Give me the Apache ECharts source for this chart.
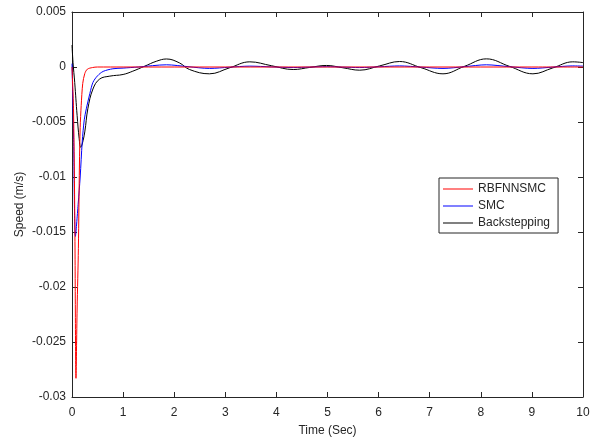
<!DOCTYPE html>
<html>
<head>
<meta charset="utf-8">
<script src="https://cdn.jsdelivr.net/npm/echarts@6/dist/echarts.min.js"></script>
<style>
html,body{margin:0;padding:0;background:#fff;}
#c{width:594px;height:442px;}
</style>
</head>
<body>
<div id="c"></div>
<script>
var seriesNames = ['RBFNNSMC', 'SMC', 'Backstepping'];
var xTickLabels = ['0','1','2','3','4','5','6','7','8','9','10'];
var yTickLabels = ['-0.03','-0.025','-0.02','-0.015','-0.01','-0.005','0','0.005'];

var rbfTime = [0, 0.03, 0.055, 0.078, 0.1, 0.125, 0.145, 0.16, 0.18, 0.21, 0.25, 0.3, 0.4, 0.5, 1, 2, 3, 4, 5, 6, 7, 8, 9, 10];
var rbfValue = [0, -0.004, -0.014, -0.0283, -0.022, -0.0165, -0.009, -0.0055, -0.0035, -0.0015, -0.0006, -0.0002, -0.00005, 0, 0, 0, 0, 0, 0, 0, 0, 0, 0, 0];

var smcTime = [0, 0.03, 0.067, 0.12, 0.16, 0.2, 0.24, 0.28, 0.35, 0.41, 0.5, 0.61, 0.8, 1.0, 1.3, 1.85, 2.27, 2.69, 3.08, 3.48, 3.9, 4.33, 4.65, 4.98, 5.3, 5.63, 6.02, 6.41, 6.83, 7.26, 7.68, 8.11, 8.56, 9.02, 9.41, 9.8, 10];
var smcValue = [0.0003, -0.006, -0.0154, -0.0125, -0.01, -0.0068, -0.0048, -0.0038, -0.0024, -0.0014, -0.0008, -0.0004, -0.00016, -0.0001, 0, 0.0002, 0.00003, -0.00013, -0.00002, 0.00008, 0.00001, -0.00005, -0.00001, 0.00003, -0.00001, -0.00005, 0.00002, 0.0001, -0.00001, -0.00013, 0.00003, 0.0002, 0.00003, -0.00013, -0.00001, 0.0001, 0.00008];

var bsTime = [0, 0.02, 0.053, 0.1, 0.14, 0.17, 0.2, 0.25, 0.31, 0.41, 0.54, 0.74, 1.0, 1.19, 1.42, 1.65, 1.85, 2.1, 2.3, 2.69, 3.08, 3.48, 3.9, 4.33, 4.65, 4.98, 5.3, 5.63, 6.02, 6.41, 6.83, 7.26, 7.68, 8.11, 8.56, 9.02, 9.41, 9.8, 10];
var bsValue = [0.002, 0.0004, -0.0014, -0.0044, -0.0065, -0.0073, -0.007, -0.0059, -0.0038, -0.002, -0.0011, -0.00083, -0.00068, -0.00038, 0.00007, 0.00052, 0.00073, 0.00038, -0.00023, -0.00062, -0.00008, 0.00047, 0.00012, -0.00023, -0.00004, 0.00014, -0.00007, -0.00029, 0.0001, 0.0005, -0.00006, -0.00062, 0.00006, 0.00074, 0.00006, -0.00062, -0.00008, 0.00047, 0.0004];

function pairs(t, v) { return t.map(function (x, i) { return [x, v[i]]; }); }

var txt = '#262626';
var font = 'Liberation Sans, Arial, sans-serif';
var yMap = {};
yTickLabels.forEach(function (s) { yMap[parseFloat(s).toFixed(4)] = s; });

var axisCommon = {
  axisLine: { show: true, onZero: false, lineStyle: { color: txt, width: 1 } },
  axisTick: { show: true, inside: true, length: 5, lineStyle: { color: txt } },
  splitLine: { show: false }
};

var chart = echarts.init(document.getElementById('c'), null, { renderer: 'canvas' });
chart.setOption({
  backgroundColor: '#fff',
  animation: false,
  grid: { left: 72, right: 11, top: 12, bottom: 42, containLabel: false },
  xAxis: [
    Object.assign({
      type: 'value', min: 0, max: 10, interval: 1, position: 'bottom',
      name: 'Time (Sec)', nameLocation: 'middle', nameGap: 28, nameMoveOverlap: false,
      nameTextStyle: { color: txt, fontSize: 12, fontFamily: font },
      axisLabel: { color: txt, fontSize: 12, fontFamily: font, margin: 10,
        formatter: function (v) { return xTickLabels[Math.round(v)]; } }
    }, axisCommon),
    Object.assign({
      type: 'value', min: 0, max: 10, interval: 1, position: 'top',
      axisLabel: { show: false }
    }, axisCommon)
  ],
  yAxis: [
    Object.assign({
      type: 'value', min: -0.03, max: 0.005, interval: 0.005, position: 'left',
      name: 'Speed (m/s)', nameLocation: 'middle', nameGap: 52, nameRotate: 90, nameMoveOverlap: false,
      nameTextStyle: { color: txt, fontSize: 12, fontFamily: font, verticalAlign: 'middle' },
      axisLabel: { color: txt, fontSize: 12, fontFamily: font, margin: 6,
        formatter: function (v) { var k = v.toFixed(4); return yMap[k] !== undefined ? yMap[k] : ''; } }
    }, axisCommon),
    Object.assign({
      type: 'value', min: -0.03, max: 0.005, interval: 0.005, position: 'right',
      axisLabel: { show: false }
    }, axisCommon)
  ],
  legend: {
    orient: 'vertical', left: 439, top: 178,
    data: seriesNames,
    icon: 'rect', itemWidth: 30, itemHeight: 1,
    itemGap: 5,
    padding: [5, 8, 4, 4],
    borderColor: txt, borderWidth: 1, borderRadius: 0,
    backgroundColor: '#fff',
    textStyle: { color: txt, fontSize: 12, fontFamily: font, lineHeight: 12, padding: [0, 0, 0, 0] }
  },
  series: [
    { name: seriesNames[0], type: 'line', data: pairs(rbfTime, rbfValue), showSymbol: false, symbol: 'none', smooth: 0.3,
      lineStyle: { color: '#ff0000', width: 1 }, itemStyle: { color: '#ff0000' }, z: 4 },
    { name: seriesNames[1], type: 'line', data: pairs(smcTime, smcValue), showSymbol: false, symbol: 'none', smooth: 0.3,
      lineStyle: { color: '#0000ff', width: 1 }, itemStyle: { color: '#0000ff' }, z: 3 },
    { name: seriesNames[2], type: 'line', data: pairs(bsTime, bsValue), showSymbol: false, symbol: 'none', smooth: 0.4,
      lineStyle: { color: '#000000', width: 1 }, itemStyle: { color: '#000000' }, z: 2 }
  ]
});
</script>
</body>
</html>
